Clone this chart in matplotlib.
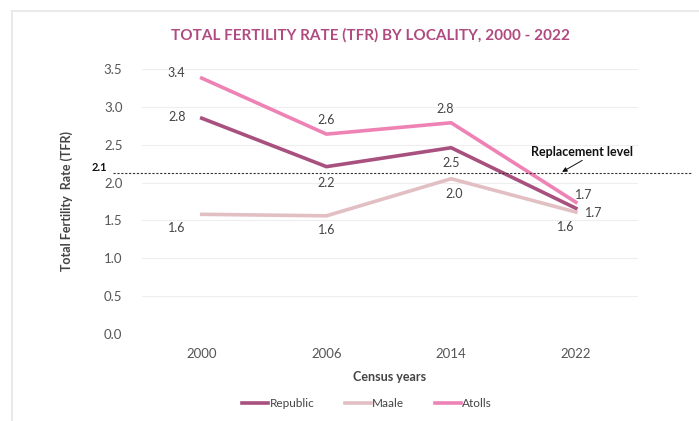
import matplotlib.pyplot as plt
from matplotlib.lines import Line2D

years = ["2000", "2006", "2014", "2022"]
republic = [2.85, 2.21, 2.46, 1.66]
maale = [1.58, 1.56, 2.05, 1.61]
atolls = [3.38, 2.64, 2.79, 1.74]
republic_lbl = ["2.8", "2.2", "2.5", "1.7"]
maale_lbl = ["1.6", "1.6", "2.0", "1.6"]
atolls_lbl = ["3.4", "2.6", "2.8", "1.7"]
replacement = 2.13

c_rep = "#a8507e"
c_maale = "#e2bfc3"
c_atolls = "#ee82b4"
txt = "#444444"

plt.rcParams['font.family'] = ['Lato', 'DejaVu Sans']

fig = plt.figure(figsize=(6.99, 4.21), dpi=100)
ax = fig.add_axes([0.203, 0.207, 0.71, 0.629])

x = list(range(len(years)))
ax.plot(x, republic, color=c_rep, lw=2.6, label="Republic")
ax.plot(x, maale, color=c_maale, lw=2.6, label="Maale")
ax.plot(x, atolls, color=c_atolls, lw=2.6, label="Atolls")

ax.set_xlim(-0.48, 3.5)
ax.set_ylim(0, 3.5)
ax.set_yticks([0, 0.5, 1, 1.5, 2, 2.5, 3, 3.5])
ax.set_yticklabels([f"{v:.1f}" for v in ax.get_yticks()])
ax.set_xticks(x)
ax.set_xticklabels(years)
ax.tick_params(length=0, labelsize=9.5, colors="#555555", pad=10)
ax.tick_params(axis="y", pad=14)
ax.grid(axis="y", color="#eeeeee", lw=0.8)
for s in ax.spines.values():
    s.set_visible(False)

# data labels (offsets in points)
atolls_off = [(-18, 1), (0, 7), (-4, 7), (6, 2)]
republic_off = [(-18, -2), (0, -15), (0, -14), (13, -6)]
maale_off = [(-18, -13), (0, -13), (2, -14), (-7, -14)]
for vals, lbls, offs in [(atolls, atolls_lbl, atolls_off),
                         (republic, republic_lbl, republic_off),
                         (maale, maale_lbl, maale_off)]:
    for i in range(4):
        ax.annotate(lbls[i], (x[i], vals[i]), textcoords="offset points",
                    xytext=offs[i], ha="center", fontsize=9, color=txt)

# replacement level line extends past the axes
ax.plot([-0.71, 3.92], [replacement, replacement], ls=(0, (2, 1.5)), color="#333333",
        lw=0.8, clip_on=False)
ax.text(-0.82, replacement, "2.1", fontsize=8, fontweight="bold", color="#111111",
        ha="center", va="bottom")
ax.annotate("Replacement level", xy=(2.89, replacement + 0.01), xytext=(3.05, 2.33),
            fontsize=9, fontweight="bold", color="#111111", ha="center", va="bottom",
            arrowprops=dict(arrowstyle="-|>", color="#111111", lw=0.7, mutation_scale=7,
                            relpos=(0.55, 0), shrinkA=0, shrinkB=0))

ax.set_xlabel("Census years", fontsize=9, fontweight="bold", color="#444444", labelpad=8)
ax.set_ylabel("Total Fertility  Rate (TFR)", fontsize=9, fontweight="bold", color="#444444",
              labelpad=22)

fig.text(0.53, 0.905, "TOTAL FERTILITY RATE (TFR) BY LOCALITY, 2000 - 2022", ha="center",
         fontsize=11, fontweight="bold", color="#b04a80")

handles = [Line2D([0], [0], color=c, lw=2.6) for c in (c_rep, c_maale, c_atolls)]
fig.legend(handles, ["Republic", "Maale", "Atolls"], loc="center", bbox_to_anchor=(0.525, 0.042),
           ncol=3, frameon=False, fontsize=8.5, handlelength=2.2, handletextpad=0.1,
           columnspacing=2.6, labelcolor="#444444")

# faint frame lines from the screenshot
fig.add_artist(Line2D([0.017, 1], [0.974, 0.974], color="#e6e6e6", lw=1.2))
fig.add_artist(Line2D([0.017, 0.017], [0, 0.974], color="#e6e6e6", lw=1.2))

fig.savefig("out.png", dpi=100)
